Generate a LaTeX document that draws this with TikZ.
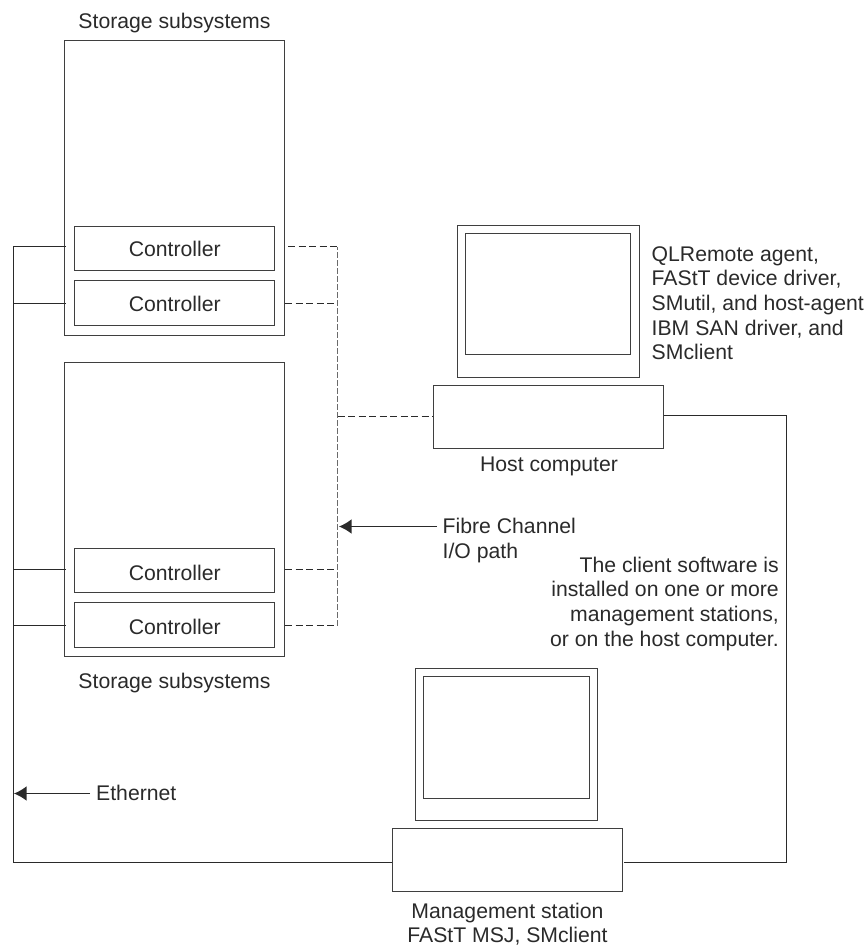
\documentclass[tikz,border=0pt]{standalone}
\usepackage{fontspec}
\setmainfont{Liberation Sans}
\usetikzlibrary{arrows.meta}
\definecolor{ink}{HTML}{2A2A2A}
\tikzset{
  rbox/.style 2 args={draw=ink!90,line width=1.1pt,inner sep=0pt,anchor=north west,minimum width=#1,minimum height=#2,xshift=-.35pt,yshift=.35pt},
  lbl/.style={font=\fontsize{21.2}{24.7}\selectfont,text=ink,inner sep=0pt,align=center},
  wire/.style={draw=ink,line width=1.1pt},
  dashh/.style={draw=ink,line width=1pt,dash pattern=on 7pt off 3.5pt},
  dashv/.style={draw=ink!70,line width=1.1pt,dash pattern=on 5.5pt off 2.5pt},
  arr/.style={wire,-{Latex[length=12.5pt,width=14.5pt]}},
}
\begin{document}
\begin{tikzpicture}[x=1pt,y=-1pt]
\useasboundingbox (0,0) rectangle (868,946);
% storage boxes
\node[rbox={220pt}{295pt}] (s1) at (64.5,40.5) {};
\node[rbox={220pt}{294pt}] (s2) at (64.5,362.5) {};
% controllers
\node[rbox={200pt}{44pt},lbl,text height=16pt] (c1) at (74.5,226.5) {Controller};
\node[rbox={200pt}{45pt},lbl,text height=17.5pt] (c2) at (74.5,280.5) {Controller};
\node[rbox={200pt}{44pt},lbl,text height=19.5pt] (c3) at (74.5,548.5) {Controller};
\node[rbox={200pt}{45pt},lbl,text height=18pt] (c4) at (74.5,602.5) {Controller};
% host
\node[rbox={182pt}{152pt}] (hm) at (457.5,225.5) {};
\node[rbox={165pt}{121pt}] (hs) at (465.5,233.5) {};
\node[rbox={230pt}{63pt}] (hc) at (433.5,385.5) {};
% management
\node[rbox={182pt}{152pt}] (mm) at (415.5,668.5) {};
\node[rbox={166pt}{122pt}] (ms) at (423.5,676.5) {};
\node[rbox={230pt}{63pt}] (mc) at (392.5,828.5) {};
% labels
\node[lbl,anchor=base] (t1) at (174.5,28.5) {Storage subsystems};
\node[lbl,anchor=base] (t2) at (174.5,688) {Storage subsystems};
\node[lbl,anchor=base] (t3) at (549,471) {Host computer};
\node[lbl,anchor=base] (t4a) at (507.5,918.5) {Management station};
\node[lbl,anchor=base] (t4b) at (507.5,942.5) {FAStT MSJ, SMclient};
\node[lbl,align=left,anchor=north west] (t5) at (651.5,246) {QLRemote agent,\\FAStT device driver,\\SMutil, and host-agent\\IBM SAN driver, and\\SMclient};
\node[lbl,align=left,anchor=north west] (t6) at (442.5,518) {Fibre Channel\\I/O path};
\node[lbl,align=right,anchor=north east] (t7) at (779,556.5) {The client software is\\installed on one or more\\management stations,\\or on the host computer.};
\node[lbl,anchor=base west] (t8) at (96,800) {Ethernet};
% ethernet bus
\coordinate (e1) at (66,246.5);
\coordinate (e2) at (66,303.5);
\coordinate (e3) at (66,569.5);
\coordinate (e4) at (66,625.5);
\coordinate (bt) at (13.4,246.5);
\coordinate (bb) at (13.4,862.5);
\draw[wire] (e1) -- (bt) -- (bb) -- (mc.west |- bb);
\draw[wire] (bt |- e2) -- (e2);
\draw[wire] (bt |- e3) -- (e3);
\draw[wire] (bt |- e4) -- (e4);
% client link
\coordinate (hr) at (mc.east |- hc.east);
\coordinate (hr) at (663.5,415.5);
\coordinate (mr) at (624,862.5);
\draw[wire] (hr) -- (786.5,415.5) -- (786.5,862.5) -- (mr);
% fibre
\coordinate (f1) at (288,246.5);
\coordinate (f2) at (285,303.5);
\coordinate (f3) at (285,569.5);
\coordinate (f4) at (285,625.5);
\coordinate (v1) at (337.5,246.5);
\coordinate (vh) at (337.5,416.5);
\draw[dashh] (f1) -- (v1);
\draw[dashh] (f2) -- (v1 |- f2);
\draw[dashh] (f3) -- (v1 |- f3);
\draw[dashh] (f4) -- (v1 |- f4);
\draw[dashv] (v1 |- f4) -- (v1);
\draw[dashh] (vh) -- (hc.west |- vh);
% arrows
\coordinate (a1) at (339,526.5);
\coordinate (a2) at (14,793.5);
\coordinate (a1s) at (437,526.5);
\coordinate (a2s) at (90,793.5);
\draw[arr] (a1s) -- (a1);
\draw[arr] (a2s) -- (a2);
\end{tikzpicture}
\end{document}
